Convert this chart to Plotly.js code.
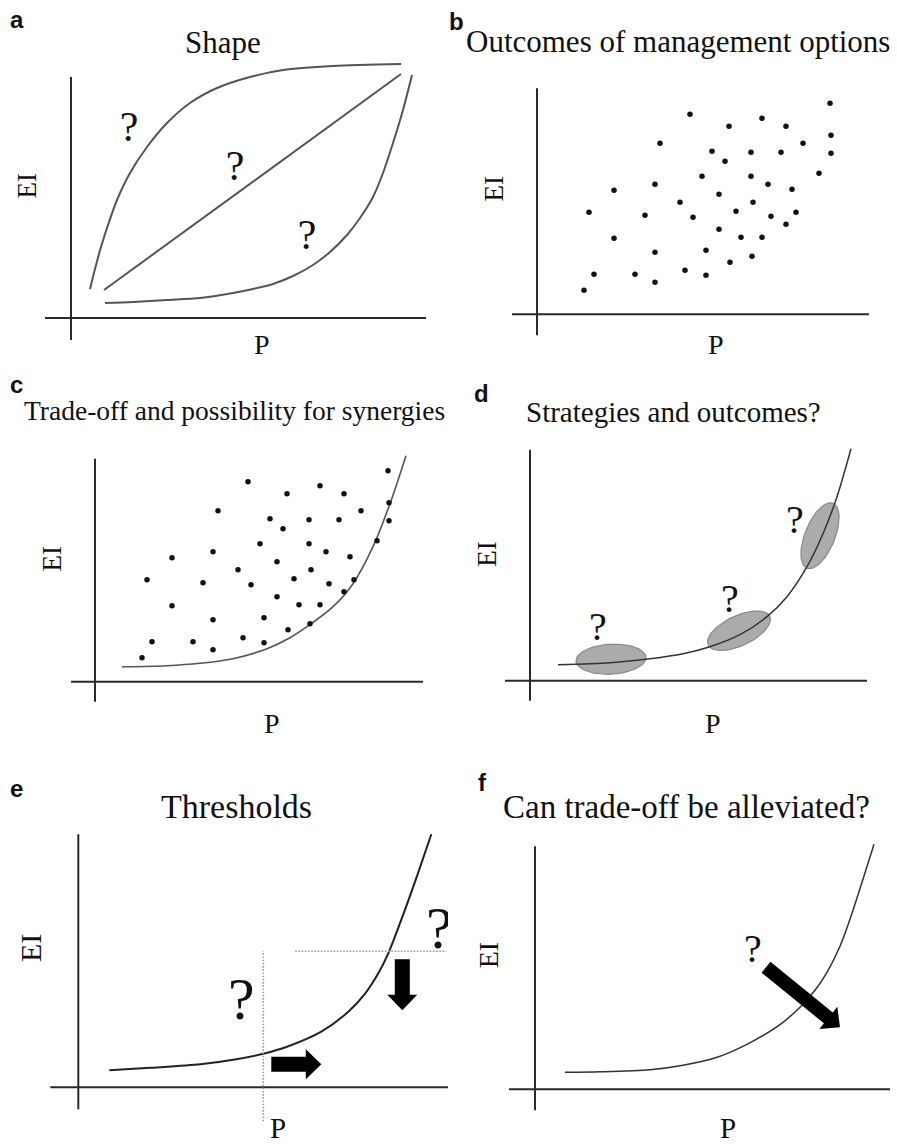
<!DOCTYPE html>
<html><head><meta charset="utf-8">
<script src="https://cdn.plot.ly/plotly-3.0.1.min.js"></script>
<style>html,body{margin:0;padding:0;background:#fff}#chart{width:897px;height:1145px}</style>
</head><body><div id="chart"></div>
<script>
// ---------------- data (P and EI in arbitrary schematic units) ----------------
// Panel a: three possible shapes
const aConcaveP  = [1.9, 2.4, 3.0, 3.7, 4.6, 5.9, 7.6, 9.6, 11.9, 14.6, 17.9, 21.2, 26.2, 33.0];
const aConcaveEI = [2.9, 4.9, 7.1, 9.3, 11.8, 14.5, 17.1, 19.5, 21.5, 23.0, 24.1, 24.8, 25.2, 25.4];
const aLinearP   = [3.3, 33.0];
const aLinearEI  = [2.8, 24.4];
const aConvexP   = [3.4, 6.2, 9.6, 12.9, 16.2, 18.2, 20.2, 22.2, 24.2, 25.9, 27.6, 28.9, 30.2, 31.2, 32.2, 33.2, 34.1];
const aConvexEI  = [1.5, 1.6, 1.8, 2.0, 2.5, 2.9, 3.4, 4.2, 5.3, 6.6, 8.3, 10.0, 12.1, 14.5, 17.5, 20.8, 24.3];
const aQuestionP  = [5.8, 16.4, 23.6];
const aQuestionEI = [19.1, 15.2, 8.3];

// Panels b and c: outcomes of management options
const outcomeP  = [15.3, 29.3, 22.5, 19.2, 24.9, 29.4, 12.3, 26.6, 17.5, 21.4, 24.4, 29.4, 18.8, 28.2, 16.5, 21.4, 11.8, 23.1, 7.7, 25.5, 18.2, 14.3, 21.6, 5.2, 10.8, 15.6, 19.9, 23.4, 25.9, 18.2, 24.9, 7.7, 20.4, 22.5, 11.8, 16.9, 21.5, 19.3, 5.7, 9.8, 14.8, 16.9, 11.8, 4.7];
const outcomeEI = [20.0, 21.1, 19.6, 18.8, 18.8, 17.9, 17.1, 17.1, 16.3, 16.2, 16.2, 16.1, 15.3, 14.1, 13.8, 13.8, 13.0, 13.0, 12.4, 12.5, 12.0, 11.2, 11.2, 10.2, 9.9, 9.7, 10.3, 9.8, 10.2, 8.5, 9.0, 7.6, 7.7, 7.7, 6.2, 6.4, 5.8, 5.2, 4.0, 4.0, 4.4, 3.9, 3.2, 2.4];

// Panel c: trade-off frontier
const cFrontP  = [2.7, 7.2, 10.5, 13.8, 17.2, 19.5, 21.2, 23.8, 25.8, 27.8, 29.5, 31.1];
const cFrontEI = [1.5, 1.6, 1.84, 2.3, 3.3, 4.4, 5.5, 7.5, 9.8, 13.5, 17.8, 22.6];

// Panel d: strategies along the frontier
const dFrontP  = [2.8, 8.0, 12.0, 15.3, 18.0, 21.0, 23.7, 25.7, 27.7, 29.3, 30.7, 32.1];
const dFrontEI = [1.6, 1.8, 2.2, 2.7, 3.4, 4.6, 6.4, 8.4, 11.4, 14.7, 18.4, 23.2];
const dStrategyP     = [8.1, 20.9, 29.0];
const dStrategyEI    = [2.15, 5.0, 14.5];
const dStrategyMajor = [3.5, 3.4, 3.5];
const dStrategyMinor = [1.5, 1.5, 1.5];
const dStrategyAngle = [3, 25, 68];
const dQuestionP  = [6.8, 20.0, 26.5];
const dQuestionEI = [5.4, 8.2, 16.1];

// Panel e: thresholds
const eFrontP  = [3.1, 7.2, 12.2, 15.5, 18.5, 21.0, 24.3, 27.0, 28.7, 30.0, 31.0, 32.5, 34.0, 35.3];
const eFrontEI = [1.7, 1.95, 2.3, 2.75, 3.35, 4.1, 5.56, 7.56, 9.4, 11.4, 13.4, 17.3, 21.5, 25.3];
const eThresholdP  = 18.5;   // vertical threshold on P
const eThresholdEI = 13.6;   // horizontal threshold on EI
const eQuestionP  = [16.3, 36.1];
const eQuestionEI = [8.9, 16.0];
const eArrowTailP  = [19.3, 32.4];
const eArrowTailEI = [2.3, 12.8];
const eArrowTipP   = [24.3, 32.4];
const eArrowTipEI  = [2.3, 7.7];

// Panel f: can trade-off be alleviated
const fFrontP  = [3.0, 6.5, 11.5, 14.8, 18.2, 21.0, 23.0, 24.8, 26.5, 28.0, 29.2, 30.5, 31.6, 33.9];
const fFrontEI = [1.7, 1.75, 1.95, 2.4, 3.2, 4.4, 5.5, 6.7, 8.2, 9.9, 11.7, 14.3, 17.3, 24.5];
const fQuestionP  = [21.8];
const fQuestionEI = [14.1];
const fArrowTailP  = [23.1];
const fArrowTailEI = [12.2];
const fArrowTipP   = [30.5];
const fArrowTipEI  = [6.2];

const panelLetters = ['a', 'b', 'c', 'd', 'e', 'f'];
const panelTitles = ['Shape', 'Outcomes of management options', 'Trade-off and possibility for synergies',
                     'Strategies and outcomes?', 'Thresholds', 'Can trade-off be alleviated?'];
const xLabel = 'P', yLabel = 'EI';

// ---------------- layout geometry ----------------
const W = 897, H = 1145, PX = 10; // pixels per schematic unit
const SERIF = 'Liberation Serif';
const SANS = 'Liberation Sans';
const panels = [
  {box: [40, 55, 440, 345],   origin: [71, 318],      xAxis: [-2.6, 35.5], yAxis: [-2.2, 24.1],
   letter: [16.5, 28], title: [222.7, 53, 31], yl: [26.5, 186, 27], xl: [262, 354, 28]},
  {box: [495, 80, 895, 340],  origin: [537, 314.3],   xAxis: [-2.5, 33.2], yAxis: [-2.1, 22.6],
   letter: [457, 30], title: [678, 52.5, 31], yl: [493, 189.5, 27], xl: [716, 354.5, 28]},
  {box: [55, 440, 445, 710],  origin: [95, 681.7],    xAxis: [-2.4, 32.8], yAxis: [-2.0, 22.3],
   letter: [16.7, 393], title: [234.5, 420, 27.5], yl: [51.5, 559, 27], xl: [272, 733, 28]},
  {box: [495, 440, 895, 710], origin: [530, 680.7],   xAxis: [-2.5, 33.7], yAxis: [-2.0, 23.1],
   letter: [481, 401.7], title: [673.5, 422, 29], yl: [486.7, 554, 27], xl: [713.3, 733, 28]},
  {box: [40, 820, 448, 1128], origin: [78.3, 1087.3], xAxis: [-2.8, 37.1], yAxis: [-2.2, 25.3],
   letter: [16.7, 796.7], title: [236.3, 818, 34], yl: [30, 948, 30], xl: [277.7, 1138, 29]},
  {box: [495, 820, 895, 1128], origin: [535, 1089.3], xAxis: [-2.6, 35.5], yAxis: [-2.1, 24.3],
   letter: [482, 790.7], title: [686, 818, 33], yl: [488.8, 955.5, 28], xl: [727.7, 1138, 29]}
];

const layout = {
  width: W, height: H, margin: {l: 0, r: 0, t: 0, b: 0},
  paper_bgcolor: '#ffffff', plot_bgcolor: 'rgba(0,0,0,0)',
  showlegend: false, shapes: [], annotations: []
};
const traces = [];
const sfx = i => (i === 0 ? '' : String(i + 1));

function ann(x, baseline, text, size, family, extra) {
  return Object.assign({
    xref: 'paper', yref: 'paper', x: x / W, y: 1 - (baseline - 0.34 * size) / H,
    xanchor: 'center', yanchor: 'middle', showarrow: false, text: text,
    font: {family: family, size: size, color: '#111'}
  }, extra || {});
}

panels.forEach((p, i) => {
  const k = sfx(i);
  const [L, T, R, B] = p.box, [ox, oy] = p.origin;
  layout['xaxis' + k] = {domain: [L / W, R / W], range: [(L - ox) / PX, (R - ox) / PX],
                         visible: false, fixedrange: true, anchor: 'y' + k};
  layout['yaxis' + k] = {domain: [1 - B / H, 1 - T / H], range: [(oy - B) / PX, (oy - T) / PX],
                         visible: false, fixedrange: true, anchor: 'x' + k};
  const axLine = {color: '#2a2a2a', width: 2};
  layout.shapes.push({type: 'line', xref: 'x' + k, yref: 'y' + k, x0: p.xAxis[0], x1: p.xAxis[1], y0: 0, y1: 0, line: axLine});
  layout.shapes.push({type: 'line', xref: 'x' + k, yref: 'y' + k, x0: 0, x1: 0, y0: p.yAxis[0], y1: p.yAxis[1], line: axLine});
  layout.annotations.push(ann(p.letter[0], p.letter[1], '<b>' + panelLetters[i] + '</b>', 24, SANS));
  layout.annotations.push(ann(p.title[0], p.title[1], panelTitles[i], p.title[2], SERIF));
  layout.annotations.push(ann(p.xl[0], p.xl[1], xLabel, p.xl[2], SERIF));
  layout.annotations.push({xref: 'paper', yref: 'paper', x: p.yl[0] / W, y: 1 - p.yl[1] / H,
    xanchor: 'center', yanchor: 'middle', showarrow: false, text: yLabel, textangle: -90,
    font: {family: SERIF, size: p.yl[2], color: '#111'}});
});

function curve(xs, ys, i, color, width, shape) {
  traces.push({type: 'scatter', mode: 'lines', x: xs, y: ys, xaxis: 'x' + sfx(i), yaxis: 'y' + sfx(i),
    line: {color: color, width: width, shape: shape || 'spline', smoothing: 0.8}, hoverinfo: 'skip'});
}
function dots(xs, ys, i) {
  traces.push({type: 'scatter', mode: 'markers', x: xs, y: ys, xaxis: 'x' + sfx(i), yaxis: 'y' + sfx(i),
    marker: {size: 5.5, color: '#111'}, hoverinfo: 'skip'});
}
function questions(xs, ys, i, size) {
  const fix = 0.088 * size / PX; // centre the glyph ink on the point
  traces.push({type: 'scatter', mode: 'text', x: xs, y: ys.map(v => v - fix),
    text: xs.map(() => '?'), textposition: 'middle center', cliponaxis: true,
    textfont: {family: SERIF, size: size, color: '#111'},
    xaxis: 'x' + sfx(i), yaxis: 'y' + sfx(i), hoverinfo: 'skip'});
}
function blockArrow(tx, ty, hx, hy, i, body, headW, headL) {
  const len = Math.hypot(hx - tx, hy - ty), ux = (hx - tx) / len, uy = (hy - ty) / len;
  const nx = -uy, ny = ux, bx = hx - ux * headL, by = hy - uy * headL;
  const pts = [[tx + nx * body / 2, ty + ny * body / 2], [bx + nx * body / 2, by + ny * body / 2],
               [bx + nx * headW / 2, by + ny * headW / 2], [hx, hy],
               [bx - nx * headW / 2, by - ny * headW / 2], [bx - nx * body / 2, by - ny * body / 2],
               [tx - nx * body / 2, ty - ny * body / 2], [tx + nx * body / 2, ty + ny * body / 2]];
  traces.push({type: 'scatter', mode: 'lines', x: pts.map(q => q[0]), y: pts.map(q => q[1]),
    fill: 'toself', fillcolor: '#000', line: {width: 0, color: '#000'},
    xaxis: 'x' + sfx(i), yaxis: 'y' + sfx(i), hoverinfo: 'skip'});
}
function ellipse(cx, cy, a, b, angDeg, i) {
  const th = angDeg * Math.PI / 180, xs = [], ys = [];
  for (let j = 0; j <= 72; j++) {
    const t = 2 * Math.PI * j / 72;
    xs.push(cx + a * Math.cos(th) * Math.cos(t) - b * Math.sin(th) * Math.sin(t));
    ys.push(cy + a * Math.sin(th) * Math.cos(t) + b * Math.cos(th) * Math.sin(t));
  }
  traces.push({type: 'scatter', mode: 'lines', x: xs, y: ys, fill: 'toself', fillcolor: '#ababab',
    line: {color: '#8a8a8a', width: 1.2}, xaxis: 'x' + sfx(i), yaxis: 'y' + sfx(i), hoverinfo: 'skip'});
}

// Panel a
curve(aConcaveP, aConcaveEI, 0, '#555', 2);
curve(aLinearP, aLinearEI, 0, '#555', 2, 'linear');
curve(aConvexP, aConvexEI, 0, '#555', 2);
questions(aQuestionP, aQuestionEI, 0, 42);
// Panel b
dots(outcomeP, outcomeEI, 1);
// Panel c
curve(cFrontP, cFrontEI, 2, '#555', 1.6);
dots(outcomeP, outcomeEI, 2);
// Panel d
dStrategyP.forEach((c, j) => ellipse(c, dStrategyEI[j], dStrategyMajor[j], dStrategyMinor[j], dStrategyAngle[j], 3));
curve(dFrontP, dFrontEI, 3, '#333', 1.5);
questions(dQuestionP, dQuestionEI, 3, 40);
// Panel e
const dotted = {color: '#9a9a9a', width: 1.6, dash: '1.6px,1.6px'};
layout.shapes.push({type: 'line', xref: 'x5', yref: 'y5', x0: eThresholdP, x1: eThresholdP, y0: -3.4, y1: eThresholdEI, line: dotted});
layout.shapes.push({type: 'line', xref: 'x5', yref: 'y5', x0: 21.7, x1: 36.8, y0: eThresholdEI, y1: eThresholdEI, line: dotted});
curve(eFrontP, eFrontEI, 4, '#222', 2);
eArrowTailP.forEach((t, j) => blockArrow(t, eArrowTailEI[j], eArrowTipP[j], eArrowTipEI[j], 4, 1.5, 3.0, 1.55));
questions(eQuestionP, eQuestionEI, 4, 60);
// Panel f
curve(fFrontP, fFrontEI, 5, '#333', 1.5);
fArrowTailP.forEach((t, j) => blockArrow(t, fArrowTailEI[j], fArrowTipP[j], fArrowTipEI[j], 5, 1.4, 2.85, 1.5));
questions(fQuestionP, fQuestionEI, 5, 40);

Plotly.newPlot('chart', traces, layout, {staticPlot: true, displayModeBar: false});
</script></body></html>
